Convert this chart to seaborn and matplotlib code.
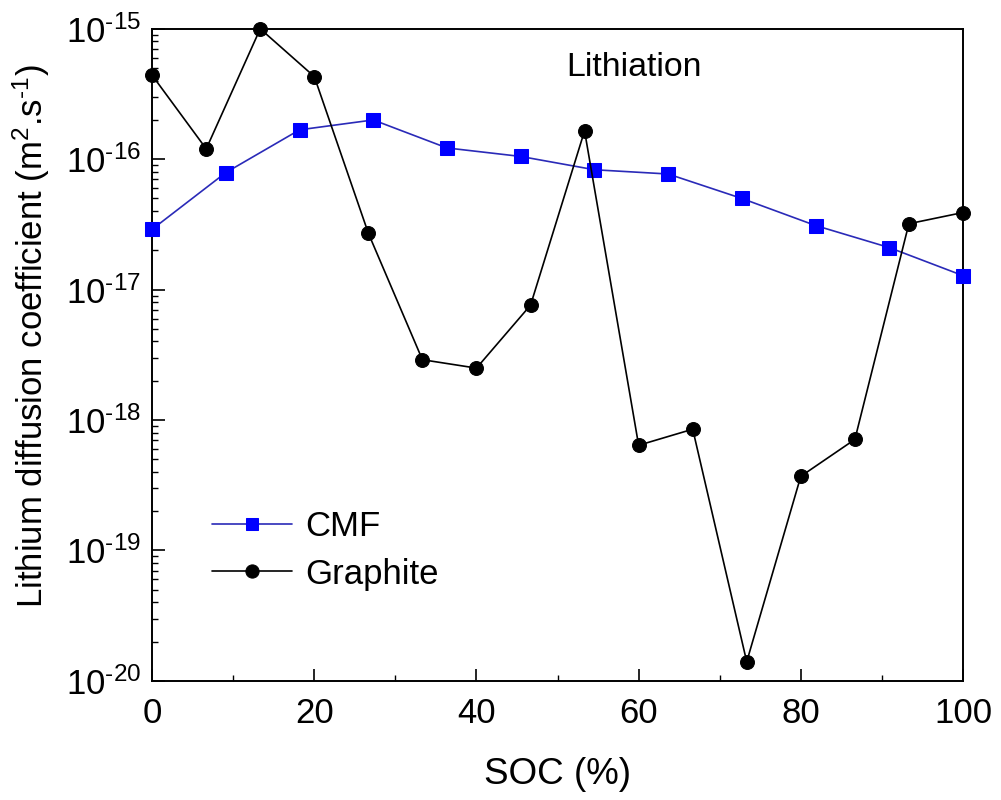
import matplotlib
matplotlib.use("Agg")
import matplotlib.pyplot as plt
import matplotlib.ticker as mticker
import numpy as np
import pandas as pd
import seaborn as sns

# State of charge (%) and diffusion coefficients (m^2/s)
cmf_soc = [0, 9.09, 18.18, 27.27, 36.36, 45.45, 54.55, 63.64, 72.73, 81.82, 90.91, 100]
cmf_d = [2.9e-17, 7.9e-17, 1.68e-16, 2.0e-16, 1.22e-16, 1.05e-16, 8.3e-17, 7.7e-17,
         5.0e-17, 3.1e-17, 2.1e-17, 1.28e-17]

graphite_soc = [0, 6.67, 13.33, 20, 26.67, 33.33, 40, 46.67, 53.33, 60, 66.67,
                73.33, 80, 86.67, 93.33, 100]
graphite_d = [4.4e-16, 1.2e-16, 1.0e-15, 4.3e-16, 2.7e-17, 2.9e-18, 2.5e-18, 7.6e-18,
              1.65e-16, 6.4e-19, 8.5e-19, 1.4e-20, 3.7e-19, 7.1e-19, 3.2e-17, 3.9e-17]

y_decades = [-20, -19, -18, -17, -16, -15]

sns.set_style("ticks")
plt.rcParams["font.family"] = ["Liberation Sans", "DejaVu Sans"]
plt.rcParams["mathtext.default"] = "regular"
for key in ["text.color", "axes.labelcolor", "xtick.color", "ytick.color", "axes.edgecolor"]:
    plt.rcParams[key] = "black"

fig = plt.figure(figsize=(10.01, 8.0), dpi=100)
ax = fig.add_axes([0.152, 0.149, 0.810, 0.815])

cmf_df = pd.DataFrame({"SOC": cmf_soc, "D": cmf_d})
gra_df = pd.DataFrame({"SOC": graphite_soc, "D": graphite_d})

sns.lineplot(data=cmf_df, x="SOC", y="D", ax=ax, color="#2a2ab8", linewidth=1.2,
             marker="s", markersize=9.5, markerfacecolor="#0000ff",
             markeredgecolor="#0000ff", label="CMF", clip_on=False, zorder=3)
sns.lineplot(data=gra_df, x="SOC", y="D", ax=ax, color="black", linewidth=1.2,
             marker="o", markersize=10, markerfacecolor="black",
             markeredgecolor="black", label="Graphite", clip_on=False, zorder=3)

ax.set_yscale("log")
ax.set_xlim(0, 100)
ax.set_ylim(1e-20, 1e-15)

ax.xaxis.set_major_locator(mticker.MultipleLocator(20))
ax.xaxis.set_minor_locator(mticker.MultipleLocator(10))

major_y = [10.0 ** d for d in y_decades]
minor_y = [m * 10.0 ** d for d in y_decades[:-1] for m in range(2, 10)]
ax.yaxis.set_major_locator(mticker.FixedLocator(major_y))
ax.yaxis.set_minor_locator(mticker.FixedLocator(minor_y))
ax.yaxis.set_minor_formatter(mticker.NullFormatter())


def decade_label(v, pos):
    n = int(round(np.log10(v)))
    return "$\\mathdefault{10^{\u2010" + str(abs(n)) + "}}$"


ax.yaxis.set_major_formatter(mticker.FuncFormatter(decade_label))

ax.tick_params(axis="both", which="major", direction="in", length=9, width=1.2,
               labelsize=25, pad=12, top=False, right=False)
ax.tick_params(axis="y", which="major", pad=8)
ax.tick_params(axis="both", which="minor", direction="in", length=4, width=1.0,
               top=False, right=False)

for side in ["left", "right", "top", "bottom"]:
    ax.spines[side].set_visible(True)
    ax.spines[side].set_linewidth(1.4)
    ax.spines[side].set_color("black")

ax.set_xlabel("SOC (%)", fontsize=26.5, labelpad=19)
ax.set_ylabel("Lithium diffusion coefficient (m$^{2}$.s$^{\u20101}$)", fontsize=25)
ax.yaxis.set_label_coords(-0.124, 0.528)

ax.text(0.594, 0.928, "Lithiation", transform=ax.transAxes, fontsize=24.4,
        ha="center", va="baseline")

ax.legend(loc="center left", bbox_to_anchor=(0.074, 0.2), frameon=False,
          fontsize=25, handlelength=2.3, handletextpad=0.37, labelspacing=0.41,
          borderpad=0, borderaxespad=0, markerscale=0.95)

fig.savefig("out.png", dpi=100)
